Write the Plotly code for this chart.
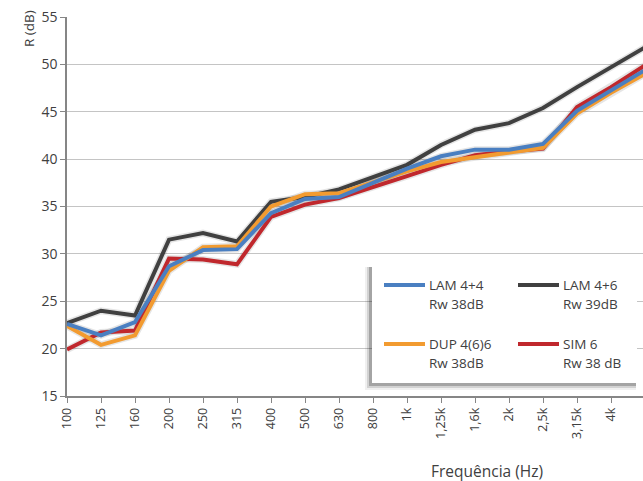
import plotly.graph_objects as go

categories = ["100", "125", "160", "200", "250", "315", "400", "500", "630", "800",
              "1k", "1,25k", "1,6k", "2k", "2,5k", "3,15k", "4k", "5k"]

lam44 = [22.6, 21.4, 22.8, 28.7, 30.4, 30.5, 34.3, 35.8, 36.0, 37.5, 39.0, 40.3, 41.0, 41.0, 41.6, 45.1, 47.3, 49.4]
lam46 = [22.7, 24.0, 23.5, 31.5, 32.2, 31.3, 35.5, 36.0, 36.8, 38.1, 39.4, 41.5, 43.1, 43.8, 45.4, 47.6, 49.7, 51.8]
dup466 = [22.4, 20.4, 21.4, 28.2, 30.7, 30.8, 35.0, 36.3, 36.4, 37.6, 38.7, 39.7, 40.2, 40.8, 41.2, 44.8, 47.0, 49.0]
sim6 = [19.9, 21.7, 21.9, 29.5, 29.4, 28.9, 33.9, 35.2, 35.9, 37.0, 38.2, 39.4, 40.4, 40.8, 41.1, 45.5, 47.6, 49.9]

series_names = ["LAM 4+4", "LAM 4+6", "DUP 4(6)6", "SIM 6"]
series_rw = ["Rw 38dB", "Rw 39dB", "Rw 38dB", "Rw 38 dB"]
series_vals = [lam44, lam46, dup466, sim6]
colors = ["#4A7FC1", "#404040", "#F29B30", "#C0282D"]

W, H = 643, 481
L, R, T, B = 67, 0, 17, 85
pw, ph = W - L - R, H - T - B
step = 34.0

def px(x):
    return (x - L) / pw

def py(y):
    return (H - B - y) / ph

xs = list(range(len(categories)))
fig = go.Figure()

draw_order = [1, 3, 2, 0]
for i in draw_order:
    fig.add_trace(go.Scatter(x=xs, y=series_vals[i], mode="lines",
                             line=dict(color="rgba(0,0,0,0.10)", width=7),
                             hoverinfo="skip", showlegend=False))
for i in draw_order:
    fig.add_trace(go.Scatter(x=xs, y=series_vals[i], mode="lines", name=series_names[i],
                             line=dict(color=colors[i], width=4), showlegend=False))

font_family = "Open Sans, Noto Sans, sans-serif"
txt_color = "#404040"

fig.update_layout(
    width=W, height=H,
    margin=dict(l=L, r=R, t=T, b=B),
    paper_bgcolor="white", plot_bgcolor="white",
    font=dict(family=font_family, size=12, color=txt_color),
    xaxis=dict(range=[0, pw / step], tickmode="array", tickvals=xs, ticktext=categories,
               tickangle=-90, ticks="outside", ticklen=5, tickcolor="#868686",
               showline=True, linecolor="#868686", linewidth=1.5, showgrid=False,
               zeroline=False, tickfont=dict(size=12.5, color=txt_color)),
    yaxis=dict(range=[15, 55], dtick=5, ticks="outside", ticklen=5, tickcolor="#868686",
               showline=True, linecolor="#868686", linewidth=1.5,
               showgrid=True, gridcolor="#C4C4C4", gridwidth=1.3, zeroline=False,
               tickfont=dict(size=14, color=txt_color)),
)

annotations = [
    dict(text="R (dB)", x=px(29), y=py(29), xref="paper", yref="paper", textangle=-90,
         showarrow=False, font=dict(size=13.5, color=txt_color), xanchor="center", yanchor="middle"),
    dict(text="Frequência (Hz)", x=px(487), y=py(471), xref="paper", yref="paper",
         showarrow=False, font=dict(size=15.5, color=txt_color), xanchor="center", yanchor="middle"),
]

shapes = []
# legend shadow and box
bx0, bx1, by0, by1 = 372, 637, 265, 383
for off, alpha in [(7, 0.06), (5, 0.12), (3, 0.22)]:
    shapes.append(dict(type="rect", xref="paper", yref="paper",
                       x0=px(bx0 - off), x1=px(bx1 - 1), y0=py(by0 + 2), y1=py(by1 + off),
                       fillcolor=f"rgba(0,0,0,{alpha})", line=dict(width=0), layer="above"))
shapes.append(dict(type="rect", xref="paper", yref="paper",
                   x0=px(bx0), x1=px(bx1), y0=py(by0), y1=py(by1),
                   fillcolor="white", line=dict(width=0), layer="above"))

entry_pos = [(384, 285), (518, 285), (384, 344), (518, 344)]
for i, (lx, ly) in enumerate(entry_pos):
    shapes.append(dict(type="line", xref="paper", yref="paper",
                       x0=px(lx), x1=px(lx + 41), y0=py(ly), y1=py(ly),
                       line=dict(color=colors[i], width=4), layer="above"))
    annotations.append(dict(text=series_names[i], x=px(lx + 43), y=py(ly), xref="paper", yref="paper",
                            showarrow=False, xanchor="left", yanchor="middle",
                            font=dict(size=13.5, color=txt_color)))
    annotations.append(dict(text=series_rw[i], x=px(lx + 43), y=py(ly + 19), xref="paper", yref="paper",
                            showarrow=False, xanchor="left", yanchor="middle",
                            font=dict(size=13.5, color=txt_color)))

fig.update_layout(shapes=shapes, annotations=annotations)
fig.write_html("out.html")
